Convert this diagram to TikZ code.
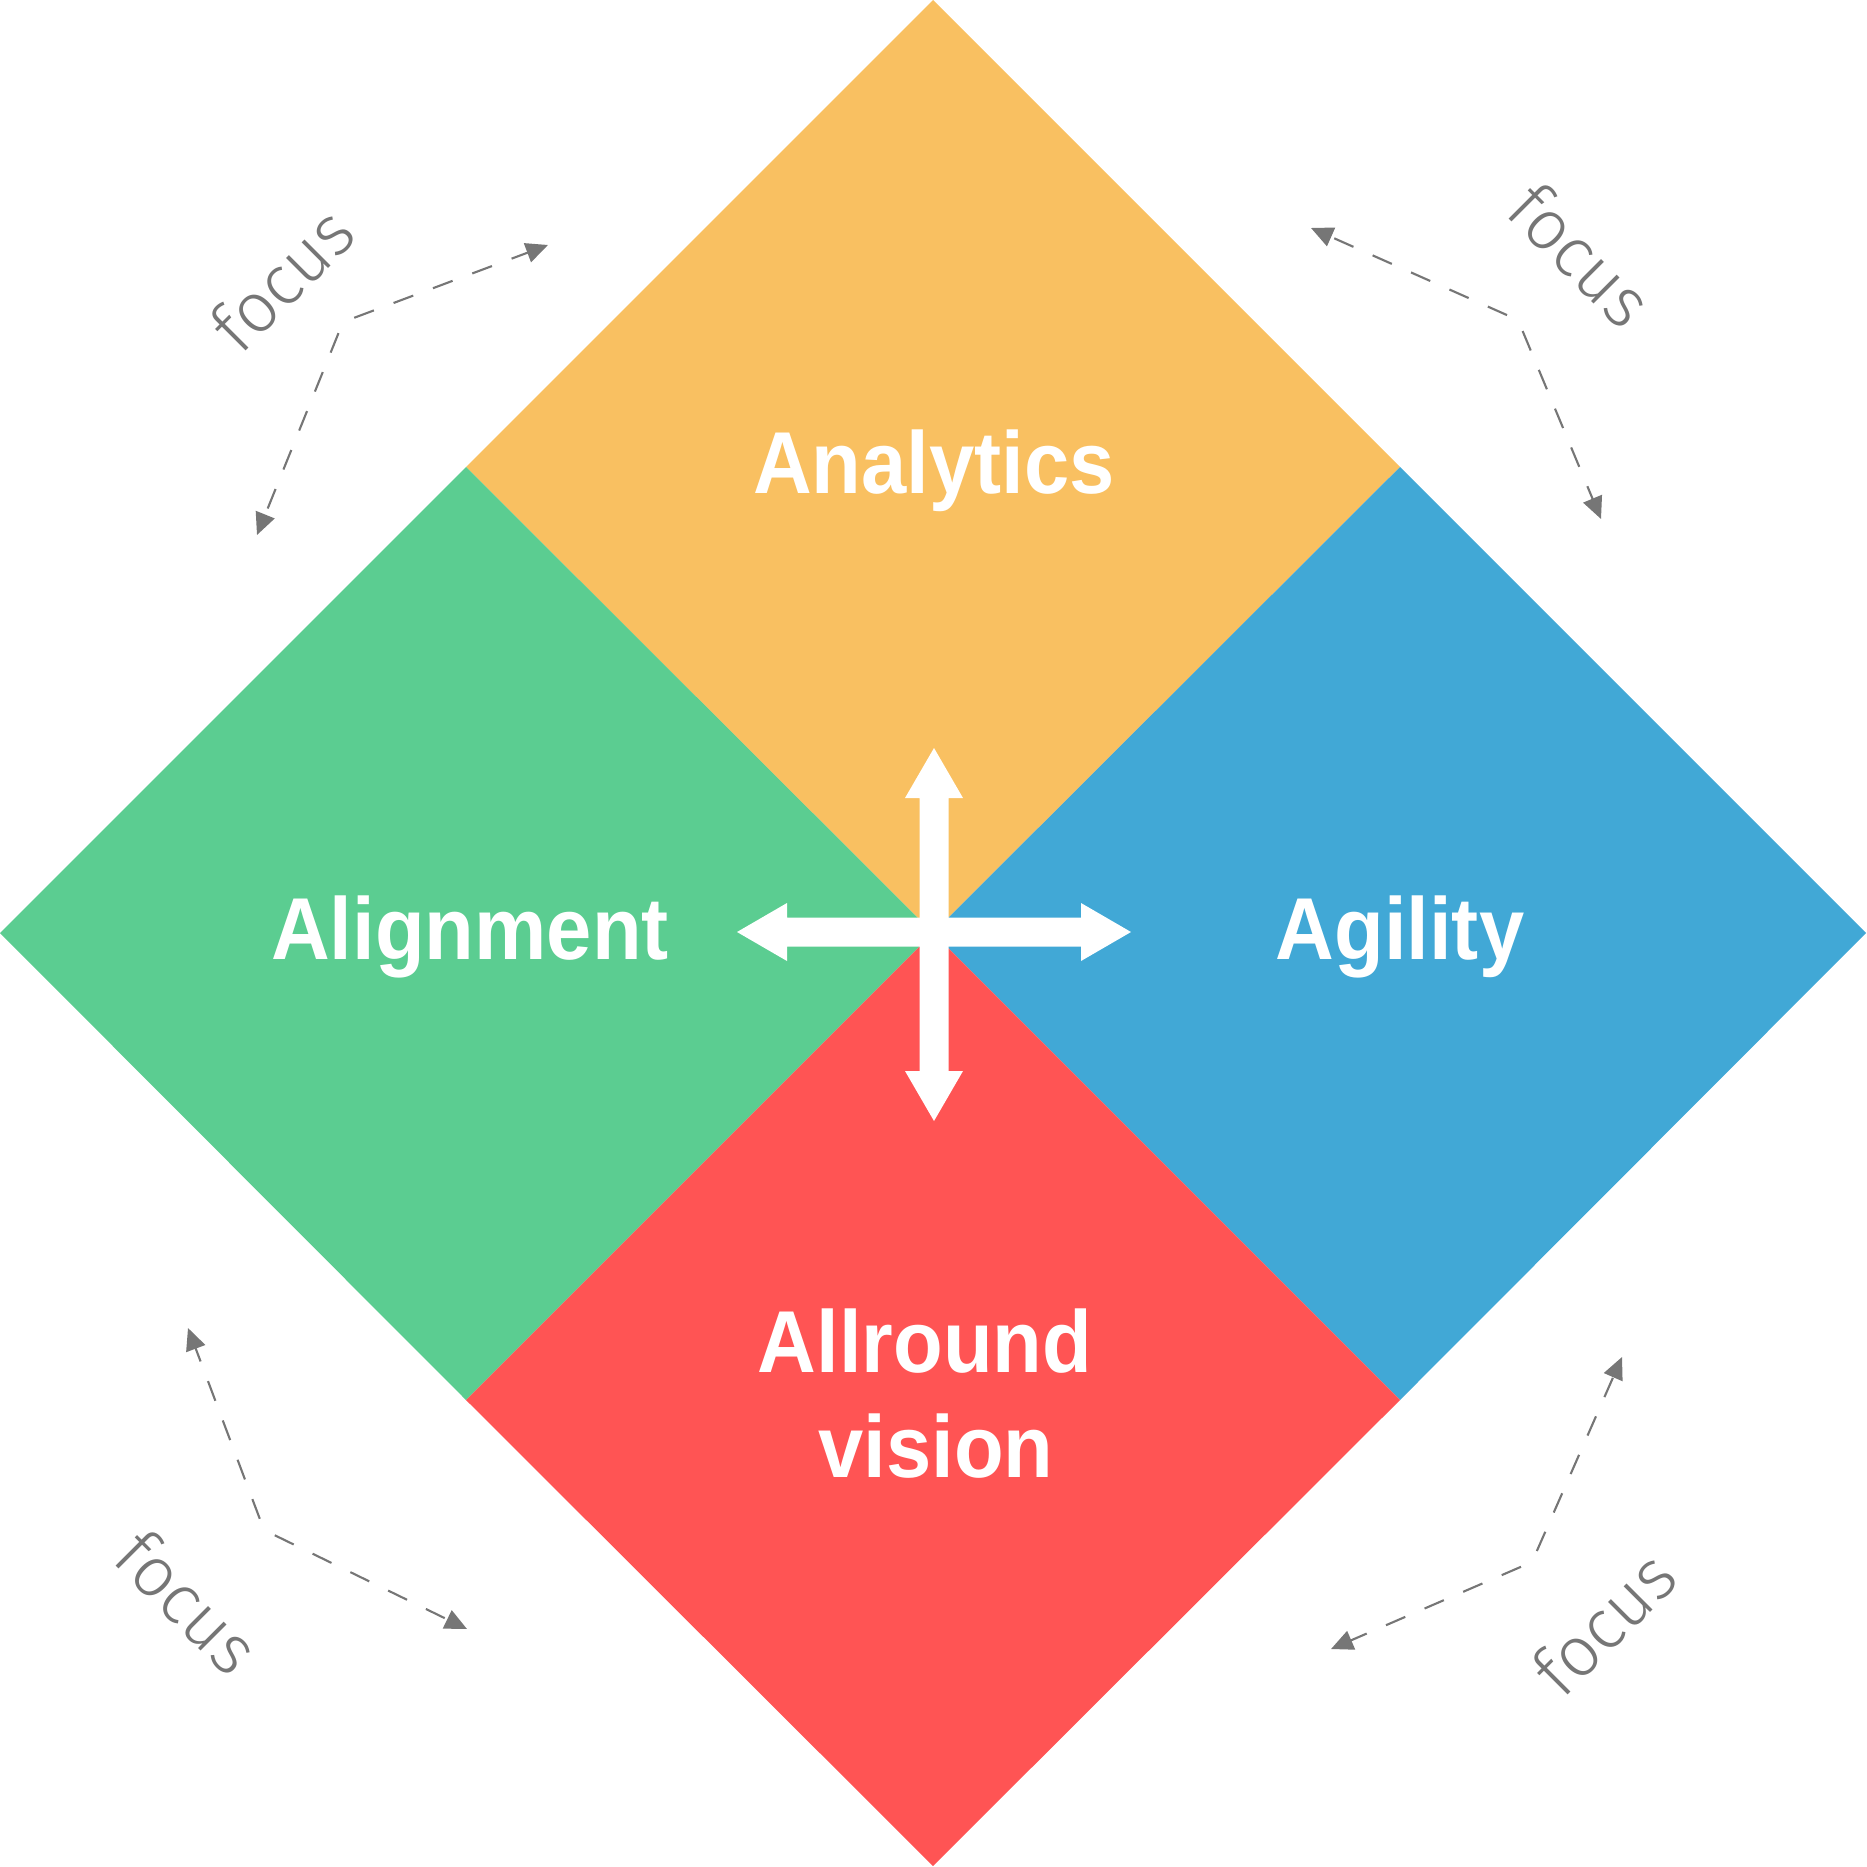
\documentclass[tikz,border=0pt]{standalone}
\usepackage{fontspec}
\setmainfont{Liberation Sans}
\newfontfamily\lblfont[FakeStretch=0.925]{Liberation Sans}
\newfontfamily\focusfont{Fira Sans Light}
\usetikzlibrary{arrows.meta}
\definecolor{cOrange}{HTML}{F9C061}
\definecolor{cGreen}{HTML}{5BCD91}
\definecolor{cBlue}{HTML}{41A8D6}
\definecolor{cRed}{HTML}{FF5454}
\definecolor{cGray}{HTML}{767676}
\tikzset{
  lbl/.style={text=white, inner sep=0pt, anchor=base, font=\lblfont\bfseries\fontsize{25}{30}\selectfont},
  focustext/.style={text=cGray, inner sep=0pt, font=\focusfont\fontsize{20}{24}\selectfont},
  focusline/.style={draw=cGray, line width=0.6pt, dash pattern=on 0.21cm off 0.21cm, dash phase=-0.12cm,
    -{Triangle[length=0.22cm,width=0.2cm]}},
}
\begin{document}
\begin{tikzpicture}[x=0.01cm,y=-0.01cm]
\useasboundingbox (0,0) rectangle (1866,1867);
% diamonds
\fill[cOrange] (933,0) -- (1400,467) -- (933,933) -- (466,467) -- cycle;
\fill[cGreen] (466,467) -- (933,933) -- (466,1400) -- (0,933) -- cycle;
\fill[cBlue] (1400,467) -- (1866,933) -- (1400,1400) -- (933,933) -- cycle;
\fill[cRed] (933,933) -- (1400,1400) -- (933,1866) -- (466,1400) -- cycle;
% central cross arrows
\fill[white] (934,748) -- (963,798) -- (948.5,798) -- (948.5,1071) -- (963,1071) -- (934,1121)
  -- (905,1071) -- (919.5,1071) -- (919.5,798) -- (905,798) -- cycle;
\fill[white] (737,932) -- (787,903) -- (787,917.5) -- (1081,917.5) -- (1081,903) -- (1131,932)
  -- (1081,961) -- (1081,946.5) -- (787,946.5) -- (787,961) -- cycle;
% labels
\node[lbl] (analytics) at (934,493) {Analytics};
\node[lbl] (alignment) at (470,959) {Alignment};
\node[lbl] (agility) at (1400,959) {Agility};
\node[lbl] (allround) at (925,1372) {Allround};
\node[lbl] (vision) at (936,1477) {vision};
% focus groups
\coordinate (tl) at (343,322);
\coordinate (tla) at (548,245);
\coordinate (tlb) at (257,535);
\coordinate (tr) at (1518,320);
\coordinate (tra) at (1311,228);
\coordinate (trb) at (1601,519);
\coordinate (bl) at (264,1530);
\coordinate (bla) at (188,1328);
\coordinate (blb) at (467,1629);
\coordinate (br) at (1532,1562);
\coordinate (bra) at (1622,1357);
\coordinate (brb) at (1331,1649);
\draw[focusline] (tl) -- (tla);
\draw[focusline] (tl) -- (tlb);
\draw[focusline] (tr) -- (tra);
\draw[focusline] (tr) -- (trb);
\draw[focusline] (bl) -- (bla);
\draw[focusline] (bl) -- (blb);
\draw[focusline] (br) -- (bra);
\draw[focusline] (br) -- (brb);
\node[focustext, rotate=45] (ftl) at (282,279) {focus};
\node[focustext, rotate=-45] (ftr) at (1581,255) {focus};
\node[focustext, rotate=-45] (fbl) at (188,1602) {focus};
\node[focustext, rotate=45] (fbr) at (1604,1623) {focus};
\end{tikzpicture}
\end{document}
